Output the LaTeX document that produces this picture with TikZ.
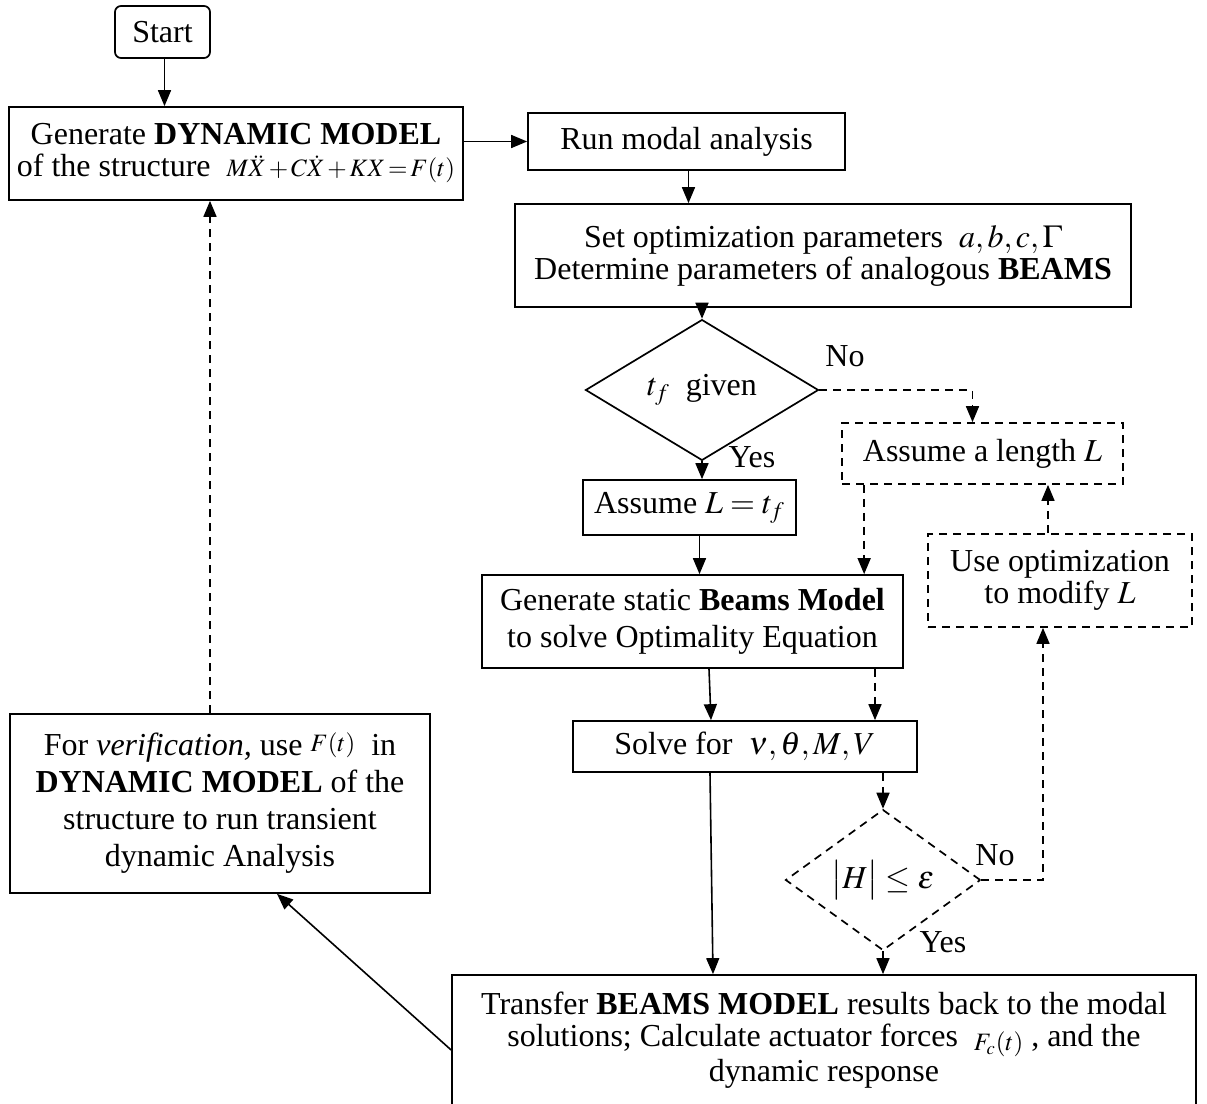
\documentclass[tikz,border=0pt]{standalone}
\usepackage{mathptmx}
\usepackage[no-math]{fontspec}
\setmainfont{Liberation Serif}
\usetikzlibrary{shapes.geometric,arrows.meta,calc}
\tikzset{
  sz/.style 2 args={minimum width=#1*0.5pt, minimum height=#2*0.5pt},
  fs/.style={font=\fontsize{16}{#1}\selectfont},
  box/.style={draw, line width=0.85pt, align=center, inner sep=0pt, fs=16},
  dbox/.style={box, dash pattern=on 4pt off 3pt},
  arr/.style={line width=0.8pt, -{Triangle[length=8pt,width=6.5pt]}},
  darr/.style={arr, dash pattern=on 4pt off 3pt},
  lbl/.style={inner sep=0pt, fs=15}
}
\newcommand{\smallmath}[1]{{\fontsize{12.5}{12.5}\selectfont\medmuskip=2mu\thickmuskip=2mu$#1$}}
\begin{document}
\begin{tikzpicture}[x=0.5pt,y=-0.5pt]
\fill[white] (0,0) rectangle (1207,1104);
\clip (0,0) rectangle (1207,1104);

% nodes
\node[box, rounded corners=3pt, sz={95}{52}] (start) at (162.5,32) {Start};
\node[box, sz={454}{93}] (gen) at (236,153.5)
  {Generate \textbf{DYNAMIC MODEL}\\ of the structure\ \ \smallmath{M\ddot{X}+C\dot{X}+KX=F(t)}};
\node[box, sz={317}{57}] (run) at (686.5,141.5) {Run modal analysis};
\node[box, sz={616}{103}] (set) at (823,255.5)
  {Set optimization parameters\ \ $a,b,c,\Gamma$\\ Determine parameters of analogous \textbf{BEAMS}};
\node[box, diamond, sz={233}{84}] (d1) at (702,390) {$t_f$\ \ given};
\node[box, sz={213}{55}] (aL) at (689.5,507.5) {Assume $L=t_{f}$};
\node[dbox, sz={281}{61}] (alen) at (982.5,453.5) {Assume a length $L$};
\node[dbox, sz={264}{93}] (uo) at (1060,580.5) {Use optimization\\ to modify $L$};
\node[box, sz={421}{93}, fs=18.5] (gs) at (692.5,621.5)
  {Generate static \textbf{Beams Model}\\ to solve Optimality Equation};
\node[box, sz={344}{51}] (solve) at (745,746.5) {Solve for\ \ $\nu,\theta,M,V$};
\node[dbox, diamond, sz={195}{84}] (h) at (883,880) {$\big|H\big|\le\varepsilon$};
\node[box, sz={744}{130}] (tr) at (824,1040)
  {Transfer \textbf{BEAMS MODEL} results back to the modal\\
   solutions; Calculate actuator forces\ \ \raisebox{-2pt}{\smallmath{F_c(t)}}\ , and the\\
   dynamic response};
\node[box, sz={420}{179}, fs=18.5] (ver) at (220,803.5)
  {For \textit{verification,} use\ \raisebox{2pt}{\smallmath{F(t)}}\ \ in\\
   \textbf{DYNAMIC MODEL} of the\\ structure to run transient\\ dynamic Analysis};

% labels
\node[lbl] (no1) at (845,356) {No};
\node[lbl] (yes1) at (752,457) {Yes};
\node[lbl] (no2) at (995,855) {No};
\node[lbl] (yes2) at (943,942) {Yes};

% connector end points
\coordinate (s0) at ($(start.south)+(2,0)$);
\coordinate (r0) at ($(run.south)+(2,0)$);
\coordinate (a0) at ($(aL.south)+(10,0)$);
\coordinate (l0) at ($(alen.south west)+(23,0)$);
\coordinate (l1) at ($(alen.north)+(-10,0)$);
\coordinate (u0) at ($(uo.north)+(-12,0)$);
\coordinate (u1) at ($(uo.south)+(-17,0)$);
\coordinate (g0) at ($(gs.south)+(16.5,0)$);
\coordinate (g1) at ($(gs.south)+(18.5,0)$);
\coordinate (g2) at ($(gs.south)+(182.5,0)$);
\coordinate (v0) at ($(solve.south)+(-35,0)$);
\coordinate (v1) at ($(solve.south)+(-32,0)$);
\coordinate (t0) at ($(tr.west)+(0,10)$);
\coordinate (e0) at ($(ver.south)+(57,0)$);
\coordinate (e1) at ($(ver.north)+(-10,0)$);

% connectors
\draw[arr] (s0) -- (s0 |- gen.north);
\draw[arr] (gen.east |- run.west) -- (run.west);
\draw[arr] (r0) -- (r0 |- set.north);
\draw[arr] (d1.north |- set.south) -- (d1.north);
\draw[arr] (d1.south) -- (d1.south |- aL.north);
\draw[arr] (a0) -- (a0 |- gs.north);
\draw[darr] (d1.east) -| (l1);
\draw[darr] (l0) -- (l0 |- gs.north);
\draw[darr] (u0) -- (u0 |- alen.south);
\draw[arr] (g0) -- (g1 |- solve.north);
\draw[darr] (g2) -- (g2 |- solve.north);
\draw[darr] (h.north |- solve.south) -- (h.north);
\draw[arr] (v0) -- (v1 |- tr.north);
\draw[darr] (h.east) -| (u1);
\draw[darr] (h.south) -- (h.south |- tr.north);
\draw[arr] (t0) -- (e0);
\draw[darr] (e1) -- (e1 |- gen.south);
\end{tikzpicture}
\end{document}
